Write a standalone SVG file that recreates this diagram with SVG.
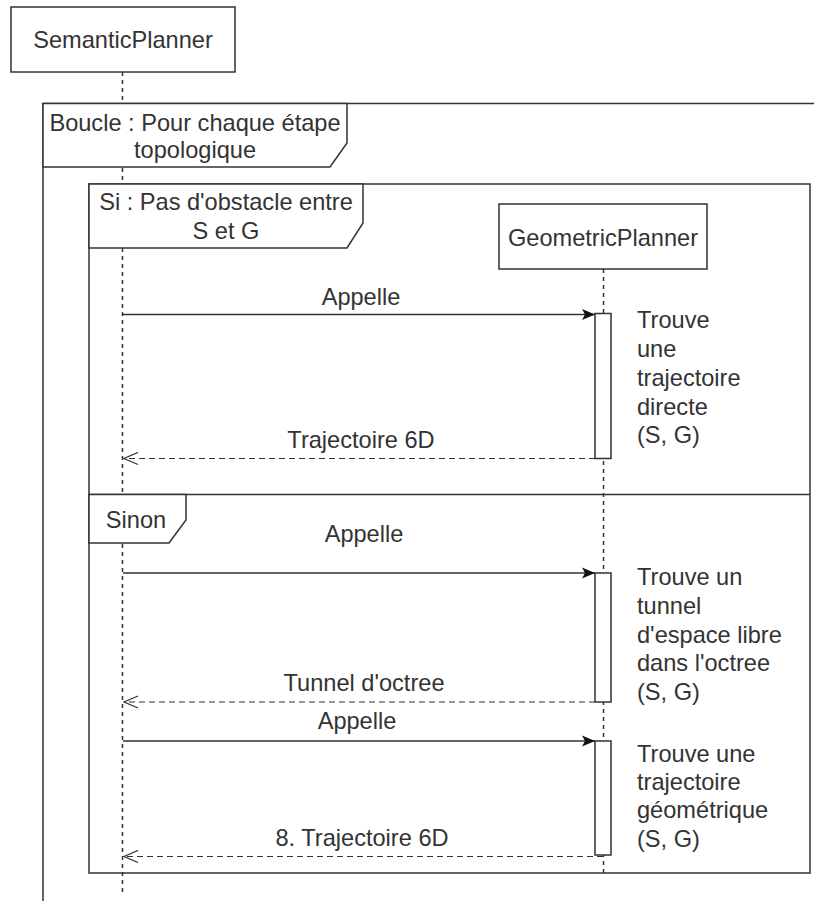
<svg xmlns="http://www.w3.org/2000/svg" width="814" height="901" viewBox="0 0 814 901">
<style>
  text { font-family: "Liberation Sans", Arial, sans-serif; font-size: 23.6px; fill: #333; }
  .c { text-anchor: middle; }
  .box { fill: #fff; stroke: #333; stroke-width: 1.5; }
  .frame { fill: none; stroke: #333; stroke-width: 1.5; }
  .life { stroke: #333; stroke-width: 1.5; stroke-dasharray: 4 4; fill: none; }
  .msg { stroke: #333; stroke-width: 1.5; fill: none; }
  .ret { stroke: #333; stroke-width: 1.2; fill: none; stroke-dasharray: 6 4; }
</style>
<defs>
  <marker id="filled" markerWidth="14" markerHeight="12" refX="13" refY="6" orient="auto" markerUnits="userSpaceOnUse">
    <path d="M0,0.5 L13,6 L0,11.5 L3,6 Z" fill="#111"/>
  </marker>
  <marker id="open" markerWidth="16" markerHeight="14" refX="15" refY="7" orient="auto" markerUnits="userSpaceOnUse">
    <path d="M1,1 L15,7 L1,13" fill="none" stroke="#333" stroke-width="1.3"/>
  </marker>
</defs>
<rect width="814" height="901" fill="#fff"/>

<g id="lifelines">
  <line class="life" x1="122.5" y1="72" x2="122.5" y2="893"/>
  <line class="life" x1="603.5" y1="269" x2="603.5" y2="877"/>
</g>

<g id="loop-frame">
  <path class="frame" d="M814,103.5 L43,103.5 L43,901"/>
  <path class="box" d="M43,103.5 L347,103.5 L347,143 L330,167 L43,167 Z"/>
  <text class="c" x="195" y="131">Boucle : Pour chaque étape</text>
  <text class="c" x="195" y="158">topologique</text>
</g>

<g id="alt-frame">
  <rect class="frame" x="89" y="184" width="721" height="689"/>
  <line class="frame" x1="89" y1="494.5" x2="810" y2="494.5"/>
  <path class="box" d="M89,184 L363,184 L363,223 L347,248 L89,248 Z"/>
  <text class="c" x="226" y="210">Si : Pas d'obstacle entre</text>
  <text class="c" x="226" y="239">S et G</text>
  <path class="box" d="M89,494.5 L186,494.5 L186,520 L169,543 L89,543 Z"/>
  <text class="c" x="136" y="528">Sinon</text>
</g>

<g id="SemanticPlanner">
  <rect class="box" x="11" y="7" width="224" height="65"/>
  <text class="c" x="123" y="48">SemanticPlanner</text>
</g>

<g id="GeometricPlanner">
  <rect class="box" x="499" y="204" width="208" height="65"/>
  <text class="c" x="603" y="246">GeometricPlanner</text>
</g>

<g id="activations">
  <rect class="box" x="595" y="313.5" width="16" height="145"/>
  <rect class="box" x="595" y="573" width="16" height="129"/>
  <rect class="box" x="595" y="741" width="16" height="114"/>
</g>

<g id="connectors">
  <line class="msg" x1="123" y1="314.5" x2="595" y2="314.5" marker-end="url(#filled)"/>
  <line class="ret" x1="595" y1="458.5" x2="124" y2="458.5" marker-end="url(#open)"/>
  <line class="msg" x1="123" y1="573" x2="595" y2="573" marker-end="url(#filled)"/>
  <line class="ret" x1="595" y1="702" x2="124" y2="702" marker-end="url(#open)"/>
  <line class="msg" x1="123" y1="741" x2="595" y2="741" marker-end="url(#filled)"/>
  <line class="ret" x1="603" y1="856.5" x2="124" y2="856.5" marker-end="url(#open)"/>
</g>

<g id="labels">
  <text class="c" x="361" y="305">Appelle</text>
  <text class="c" x="361" y="448">Trajectoire 6D</text>
  <text class="c" x="364" y="542">Appelle</text>
  <text class="c" x="364" y="691">Tunnel d'octree</text>
  <text class="c" x="357" y="729">Appelle</text>
  <text class="c" x="362" y="846">8. Trajectoire 6D</text>
</g>

<g id="notes">
  <text x="637" y="328">Trouve</text>
  <text x="637" y="357">une</text>
  <text x="637" y="386">trajectoire</text>
  <text x="637" y="415">directe</text>
  <text x="637" y="443">(S, G)</text>
  <text x="637" y="585">Trouve un</text>
  <text x="637" y="614">tunnel</text>
  <text x="637" y="643">d'espace libre</text>
  <text x="637" y="671">dans l'octree</text>
  <text x="637" y="700">(S, G)</text>
  <text x="637" y="762">Trouve une</text>
  <text x="637" y="790">trajectoire</text>
  <text x="637" y="818">géométrique</text>
  <text x="637" y="847">(S, G)</text>
</g>
</svg>
